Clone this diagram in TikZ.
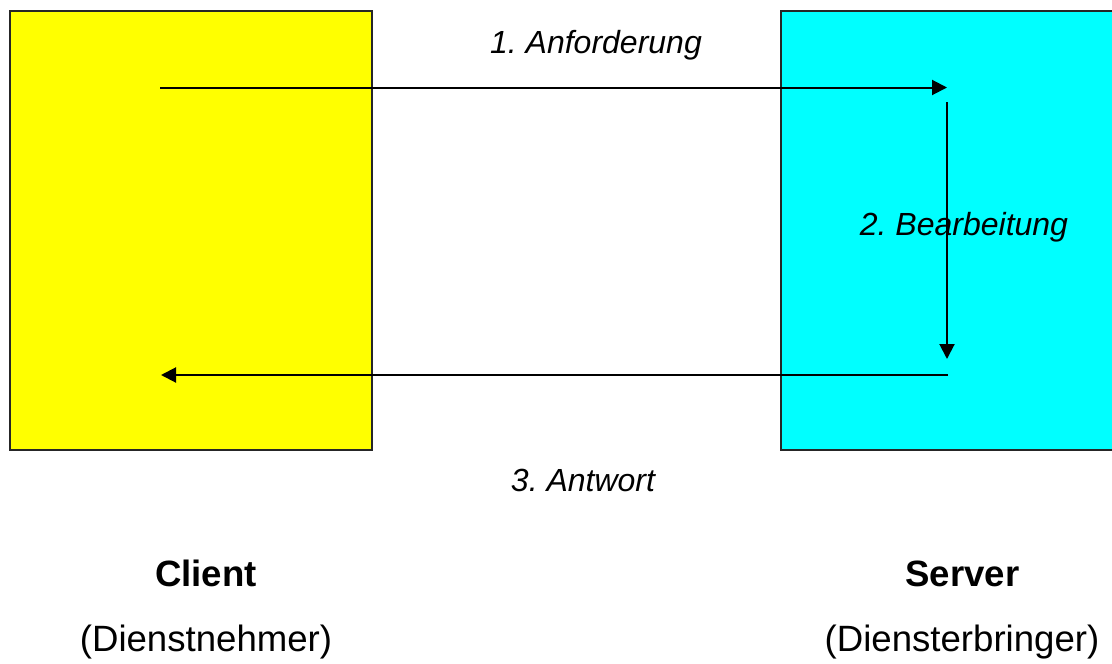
\documentclass[tikz,border=0pt]{standalone}
\usepackage{fontspec}
\setmainfont{Liberation Sans}
\usetikzlibrary{arrows.meta}
\definecolor{clientyellow}{RGB}{255,255,0}
\definecolor{servercyan}{RGB}{0,255,255}
\frenchspacing
\begin{document}
\begin{tikzpicture}[x=1pt,y=-1pt,
  boxstyle/.style={draw=black!85, line width=2.2pt},
  flow/.style={line width=2pt, -{Triangle[length=15pt,width=15pt]}},
  steplabel/.style={font=\fontsize{32}{36}\selectfont\itshape, anchor=base, inner sep=0pt},
  titlelabel/.style={font=\fontsize{36.6}{40}\selectfont\bfseries, anchor=base, inner sep=0pt},
  sublabel/.style={font=\fontsize{36.6}{40}\selectfont, anchor=base, inner sep=0pt}]
\useasboundingbox (0,0) rectangle (1112,664);
\clip (0,0) rectangle (1112,664);
% boxes
\draw[boxstyle, fill=clientyellow] (10,11) rectangle (372,450);
\draw[boxstyle, fill=servercyan] (781,11) rectangle (1120,450);
\node[inner sep=0pt, minimum width=362pt, minimum height=439pt] (client) at (191,230.5) {};
\node[inner sep=0pt, minimum width=339pt, minimum height=439pt] (server) at (950.5,230.5) {};
% connector points
\coordinate (reqS) at (160,87.5);
\coordinate (reqE) at (947,87.5);
\coordinate (procS) at (947,102);
\coordinate (procE) at (947,359);
\coordinate (ansS) at (948,375);
\coordinate (ansE) at (161,375);
\draw[flow] (reqS) -- (reqE);
\draw[flow] (procS) -- (procE);
\draw[flow] (ansS) -- (ansE);
% labels
\node[steplabel] (l1) at (596,53) {1. Anforderung};
\node[steplabel] (l2) at (964,235) {2. Bearbeitung};
\node[steplabel] (l3) at (583,491.5) {3. Antwort};
\node[titlelabel] (c1) at (206,586.5) {Client};
\node[sublabel] (c2) at (206,651.5) {(Dienstnehmer)};
\node[titlelabel] (s1) at (962.5,586.5) {Server};
\node[sublabel] (s2) at (962,651.5) {(Diensterbringer)};
\end{tikzpicture}
\end{document}
